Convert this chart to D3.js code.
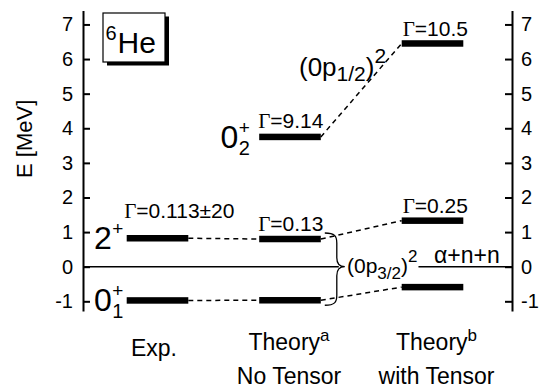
<!DOCTYPE html>
<html>
<head>
<meta charset="utf-8">
<script src="https://cdn.jsdelivr.net/npm/d3@7"></script>
<style>
  html, body { margin: 0; padding: 0; background: #fff; }
  svg { display: block; font-family: "Liberation Sans", Arial, Helvetica, sans-serif; }
</style>
</head>
<body>
<svg id="chart" width="552" height="388"></svg>
<script>
// Level scheme of 6He: experiment vs. two theoretical calculations
const columns = ["exp", "noTensor", "withTensor"];
const columnTitle = ["Exp.", "Theory", "Theory"];
const columnMark = ["", "a", "b"];
const columnSubtitle = ["", "No Tensor", "with Tensor"];

// states: 0+_1, 2+, 0+_2
const stateMain = ["0", "2", "0"];
const stateSub = ["1", "", "2"];
const stateSup = ["+", "+", "+"];

// energies [MeV] relative to the alpha+n+n threshold
const energyExp = [-0.975, 0.822, null];
const energyNoTensor = [-0.97, 0.80, 3.75];
const energyWithTensor = [-0.59, 1.33, 6.45];

// decay widths [MeV]
const widthExp = [null, "0.113\u00b120", null];
const widthNoTensor = [null, "0.13", "9.14"];
const widthWithTensor = [null, "0.25", "10.5"];

const yTicks = [-1, 0, 1, 2, 3, 4, 5, 6, 7];

const energies = [energyExp, energyNoTensor, energyWithTensor];
const widths = [widthExp, widthNoTensor, widthWithTensor];

const svg = d3.select("#chart");
const serif = "'Liberation Serif', 'Times New Roman', serif";

const y = d3.scaleLinear().domain([-1.28, 7.4]).range([311, 10.6]);
const x = d3.scaleOrdinal().domain(columns).range([157.5, 290, 432.5]);
const barHalf = 30.8;
const barH = 6.5;
const axisLeftX = 83, axisRightX = 512;

// axes with inward ticks
function styleAxis(g) {
  g.attr("font-size", 20).attr("font-family", null);
  g.select(".domain").attr("stroke-width", 2);
  g.selectAll(".tick line").attr("stroke-width", 2);
  g.selectAll(".tick text").attr("fill", "#000");
}
svg.append("g")
  .attr("transform", `translate(${axisLeftX},0)`)
  .call(d3.axisLeft(y).tickValues(yTicks).tickFormat(d => String(d))
    .tickSizeInner(-7).tickSizeOuter(0).tickPadding(10))
  .call(styleAxis);
svg.append("g")
  .attr("transform", `translate(${axisRightX},0)`)
  .call(d3.axisRight(y).tickValues(yTicks).tickFormat(d => String(d))
    .tickSizeInner(-7).tickSizeOuter(0).tickPadding(9))
  .call(styleAxis);

svg.append("text")
  .attr("transform", `translate(31.5,${(y(7) + y(-1)) / 2 - 24}) rotate(-90)`)
  .attr("text-anchor", "middle")
  .attr("font-size", 22)
  .text("E [MeV]");

// nucleus tag box with drop shadow
const box = svg.append("g");
box.append("rect").attr("x", 107).attr("y", 16.5).attr("width", 62).attr("height", 49).attr("fill", "#000");
box.append("rect").attr("x", 103).attr("y", 13).attr("width", 62).attr("height", 49)
  .attr("fill", "#fff").attr("stroke", "#000").attr("stroke-width", 1.2);
box.append("text").attr("x", 105.5).attr("y", 40).attr("font-size", 20).text("6");
box.append("text").attr("x", 117.5).attr("y", 53).attr("font-size", 30).text("He");

// dashed connectors between the same state in neighbouring columns
const conn = svg.append("g").attr("fill", "none").attr("stroke", "#000")
  .attr("stroke-width", 1.5).attr("stroke-dasharray", "5,4");
for (let c = 0; c < columns.length - 1; c++) {
  for (let s = 0; s < stateMain.length; s++) {
    const e1 = energies[c][s], e2 = energies[c + 1][s];
    if (e1 == null || e2 == null) continue;
    conn.append("line")
      .attr("x1", x(columns[c]) + barHalf).attr("y1", y(e1))
      .attr("x2", x(columns[c + 1]) - barHalf).attr("y2", y(e2));
  }
}

// configuration labels
const p32 = svg.append("text").attr("x", 347).attr("y", 273).attr("font-size", 21);
p32.append("tspan").text("(0p");
p32.append("tspan").attr("font-size", 17).attr("dy", 6).text("3/2");
p32.append("tspan").attr("dy", -6).text(")");
p32.append("tspan").attr("font-size", 17).attr("dy", -11).text("2");

const p12 = svg.append("text").attr("x", 299).attr("y", 76).attr("font-size", 26);
p12.append("tspan").text("(0p");
p12.append("tspan").attr("font-size", 21).attr("dy", 5).text("1/2");
p12.append("tspan").attr("dy", -5).text(")");
p12.append("tspan").attr("font-size", 21).attr("dy", -13).text("2");

// threshold line, interrupted by the configuration label
const braceX = x("noTensor") + barHalf + 16;
const p32box = p32.node().getBBox();
const zline = svg.append("g").attr("stroke", "#000").attr("stroke-width", 1.5);
zline.append("line").attr("x1", axisLeftX).attr("x2", braceX + 2).attr("y1", y(0)).attr("y2", y(0));
zline.append("line").attr("x1", p32box.x + p32box.width + 1).attr("x2", axisRightX).attr("y1", y(0)).attr("y2", y(0));

svg.append("text").attr("x", 434).attr("y", 263).attr("font-size", 23).text("\u03b1+n+n");

// brace grouping the two low-lying states of the calculation without tensor force
{
  const yt = y(energyNoTensor[1]) - 6, yb = y(energyNoTensor[0]) + 5, ym = y(0);
  const xb = braceX;
  const p = d3.path();
  p.moveTo(xb - 12, yt);
  p.bezierCurveTo(xb - 2, yt, xb, yt + 3, xb, yt + 10);
  p.lineTo(xb, ym - 9);
  p.bezierCurveTo(xb, ym - 3, xb + 3, ym, xb + 8, ym);
  p.bezierCurveTo(xb + 3, ym, xb, ym + 3, xb, ym + 9);
  p.lineTo(xb, yb - 10);
  p.bezierCurveTo(xb, yb - 3, xb - 2, yb, xb - 12, yb);
  svg.append("path").attr("d", p.toString()).attr("fill", "none")
    .attr("stroke", "#000").attr("stroke-width", 1.3);
}

// level bars, widths and state labels
const gammaDx = [-2.5, -1, 1];
const gammaDy = [-20, -8.5, -7.5];
const labelGap = [5, 11, 11];
const drawnState = new Set();
columns.forEach((col, c) => {
  const cx = x(col);
  energies[c].forEach((e, s) => {
    if (e == null) return;
    svg.append("rect")
      .attr("x", cx - barHalf).attr("y", y(e) - barH / 2)
      .attr("width", barHalf * 2).attr("height", barH)
      .attr("fill", "#000");

    const w = widths[c][s];
    if (w != null) {
      const t = svg.append("text")
        .attr("x", cx - barHalf + gammaDx[c]).attr("y", y(e) + gammaDy[c])
        .attr("font-size", 21);
      t.append("tspan").attr("font-family", serif).attr("font-size", 21).text("\u0393");
      t.append("tspan").text("=" + w);
    }

    if (!drawnState.has(s)) {
      drawnState.add(s);
      const base = y(e) + 11;
      const sx = cx - barHalf - labelGap[c] - 10;
      svg.append("text").attr("x", sx).attr("y", base).attr("text-anchor", "end")
        .attr("font-size", 32).text(stateMain[s]);
      svg.append("text").attr("x", sx + 0.5).attr("y", base - 14)
        .attr("font-size", 19).text(stateSup[s]);
      if (stateSub[s]) {
        svg.append("text").attr("x", sx + 0.5).attr("y", base + 7)
          .attr("font-size", 20).text(stateSub[s]);
      }
    }
  });
});

// column captions
const captionDx = [-3.5, -1, 4];
columns.forEach((col, c) => {
  const cx = x(col) + captionDx[c];
  if (!columnSubtitle[c]) {
    svg.append("text").attr("x", cx).attr("y", 356).attr("text-anchor", "middle")
      .attr("font-size", 23).text(columnTitle[c]);
  } else {
    const t = svg.append("text").attr("x", cx).attr("y", 350).attr("text-anchor", "middle")
      .attr("font-size", 23);
    t.append("tspan").text(columnTitle[c]);
    t.append("tspan").attr("font-size", 17).attr("dy", -9).text(columnMark[c]);
    svg.append("text").attr("x", cx).attr("y", 384).attr("text-anchor", "middle")
      .attr("font-size", 23).text(columnSubtitle[c]);
  }
});
</script>
</body>
</html>
